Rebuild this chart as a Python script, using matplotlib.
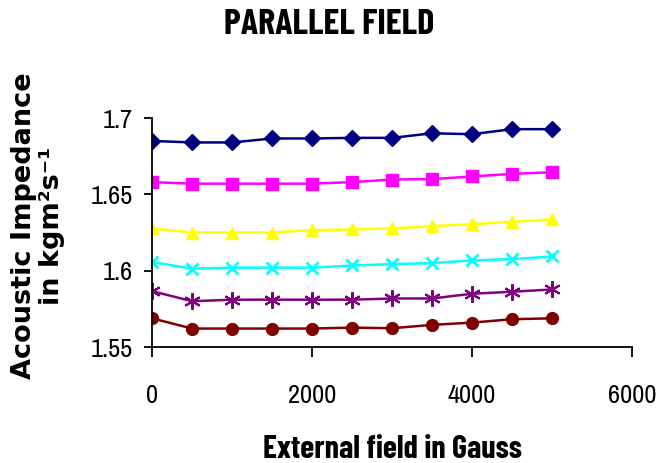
import matplotlib
matplotlib.use("Agg")
import matplotlib.pyplot as plt

field = [0, 500, 1000, 1500, 2000, 2500, 3000, 3500, 4000, 4500, 5000]
s_navy = [1.685, 1.684, 1.684, 1.6866, 1.6866, 1.687, 1.687, 1.690, 1.6894, 1.6927, 1.6927]
s_magenta = [1.658, 1.657, 1.657, 1.657, 1.657, 1.658, 1.6597, 1.660, 1.6617, 1.6634, 1.6645]
s_yellow = [1.6277, 1.625, 1.625, 1.625, 1.6266, 1.627, 1.6277, 1.6292, 1.6305, 1.632, 1.6336]
s_cyan = [1.6057, 1.6013, 1.602, 1.602, 1.602, 1.6034, 1.6043, 1.605, 1.6067, 1.6076, 1.6093]
s_purple = [1.5866, 1.580, 1.581, 1.581, 1.581, 1.581, 1.5818, 1.5818, 1.5849, 1.5862, 1.5877]
s_red = [1.5688, 1.5621, 1.5621, 1.5621, 1.5621, 1.5627, 1.5623, 1.5645, 1.566, 1.5682, 1.5688]

xticks = [0, 2000, 4000, 6000]
yticks = [1.55, 1.6, 1.65, 1.7]
ytick_labels = ["1.55", "1.6", "1.65", "1.7"]

plt.rcParams['font.family'] = ['Liberation Sans', 'DejaVu Sans']

fig = plt.figure(figsize=(6.59, 4.63), dpi=100)
ax = fig.add_axes([0.2307, 0.2505, 0.7284, 0.4946])

series = [
    (s_navy, '#000080', 'D', 8, None),
    (s_magenta, '#FF00FF', 's', 8.5, None),
    (s_yellow, '#FFFF00', '^', 9, None),
    (s_cyan, '#00FFFF', 'x', 8, 2),
    (s_purple, '#800080', (6, 2, 0), 12, 1.5),
    (s_red, '#800000', 'o', 8.5, None),
]
for vals, col, mk, ms, mew in series:
    kw = dict(color=col, marker=mk, markersize=ms, linewidth=1.8)
    if mew is not None:
        kw['markeredgewidth'] = mew
    ax.plot(field, vals, **kw)

ax.set_xlim(0, 6000)
ax.set_ylim(1.55, 1.7)
ax.set_xticks(xticks)
ax.set_xticklabels([str(v) for v in xticks])
ax.set_yticks(yticks)
ax.set_yticklabels(ytick_labels)
ax.spines['top'].set_visible(False)
ax.spines['right'].set_visible(False)
ax.spines['left'].set_linewidth(1.3)
ax.spines['bottom'].set_linewidth(1.3)
tick_font = ['Archivo Narrow', 'Liberation Sans']
ax.tick_params(axis='x', direction='out', length=7.5, width=1.3, pad=19)
ax.tick_params(axis='y', direction='out', length=6, width=1.3, pad=8)
for lab in ax.get_xticklabels() + ax.get_yticklabels():
    lab.set_family(tick_font)
    lab.set_fontsize(19)

fig.text(0.499, 0.946, "PARALLEL FIELD", ha='center', va='center',
         fontsize=26, fontweight='bold', family=['Barlow Condensed', 'Liberation Sans'])
fig.text(0.596, 0.030, "External field in Gauss", ha='center', va='center',
         fontsize=23, fontweight='bold', family=['Barlow Condensed', 'Liberation Sans'])
fig.text(0.058, 0.512, "Acoustic Impedance\nin kgm\u00b2s\u207b\u00b9", ha='center', va='center',
         rotation=90, fontsize=19.5, fontweight='bold', linespacing=1.12,
         family=['DejaVu Sans'])

fig.savefig("out.png", dpi=100)
